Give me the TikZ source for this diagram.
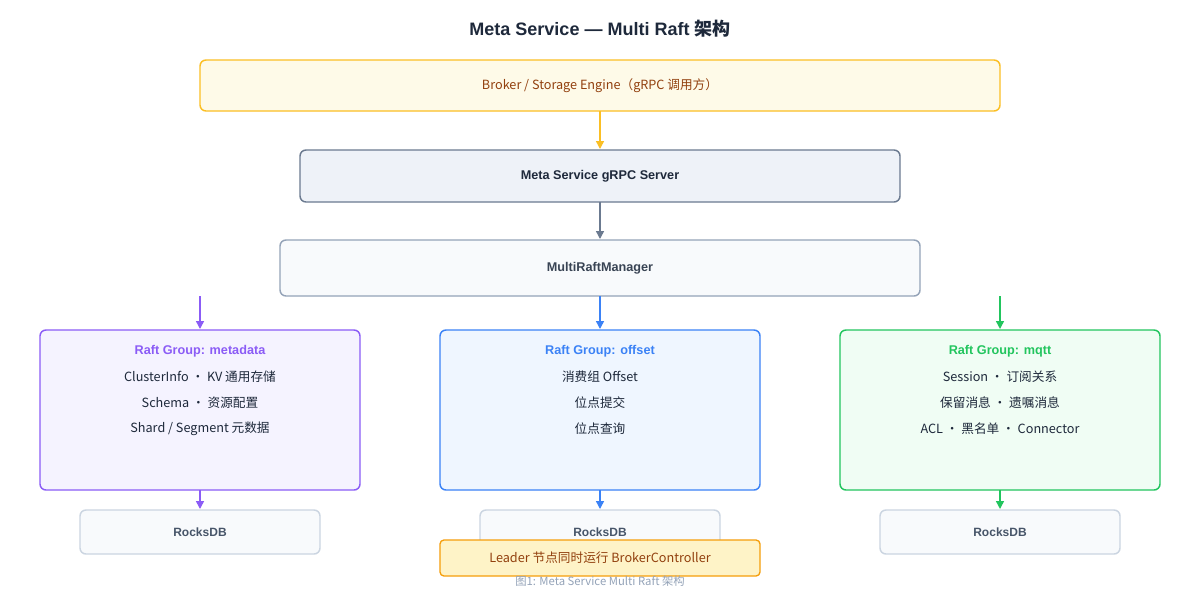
\documentclass[tikz,border=0pt]{standalone}
\usepackage{fontspec}
\setmainfont{Liberation Sans}
\newfontfamily\cjk{Noto Sans CJK SC}
\usetikzlibrary{arrows.meta}
\definecolor{ybd}{HTML}{FBBF24}\definecolor{yfill}{HTML}{FEFAE8}\definecolor{brown}{HTML}{92400E}
\definecolor{sbd}{HTML}{6B7A90}\definecolor{sfill}{HTML}{EEF2F8}\definecolor{dark}{HTML}{1E293B}
\definecolor{mbd}{HTML}{94A3B8}\definecolor{mfill}{HTML}{F8FAFC}
\definecolor{pbd}{HTML}{8B5CF6}\definecolor{pfill}{HTML}{F5F3FF}
\definecolor{bbd}{HTML}{3B82F6}\definecolor{bfill}{HTML}{EFF6FF}
\definecolor{gbd}{HTML}{22C55E}\definecolor{gfill}{HTML}{F0FDF4}
\definecolor{rbd}{HTML}{CBD5E1}\definecolor{rtxt}{HTML}{475569}
\definecolor{lfill}{HTML}{FEF3C7}\definecolor{lbd}{HTML}{F59E0B}
\definecolor{cap}{HTML}{94A3B8}
\begin{document}
\begin{tikzpicture}[x=0.75pt,y=-0.75pt,
 box/.style={rounded corners=4.5pt,line width=1.1pt},
 arr/.style={-{Triangle[length=6pt,width=6pt]},line width=1.1pt},
 t/.style={font=\fontsize{9.5}{11}\selectfont\cjk},
 tb/.style={font=\fontsize{9.5}{11}\selectfont\bfseries}]
\useasboundingbox (0,0) rectangle (1200,600);
\fill[white] (0,0) rectangle (1200,600);
\node[font=\fontsize{13.5}{16}\selectfont\bfseries,text=dark] (title) at (600,29) {Meta Service — Multi Raft {\cjk 架构}};
\draw[box,draw=ybd,fill=yfill] (200,60) rectangle (1000,111);
\node[t,text=brown] (caller) at (600,86) {Broker / Storage Engine（gRPC 调用方）};
\coordinate (cb) at (600,111);
\draw[box,draw=sbd,fill=sfill] (300,150) rectangle (900,202);
\node[tb,text=dark] (srv) at (600,176) {Meta Service gRPC Server};
\coordinate (st) at (600,149);\coordinate (sb) at (600,202);
\draw[arr,draw=ybd,color=ybd] (cb) -- (st);
\draw[box,draw=mbd,fill=mfill] (280,240) rectangle (920,296);
\node[tb,text=rtxt!80!black] (mgr) at (600,268) {MultiRaftManager};
\coordinate (mt) at (600,239);
\draw[arr,draw=sbd,color=sbd] (sb) -- (mt);
\foreach \x/\bd/\fl/\name/\a/\b/\c in {
 200/pbd/pfill/metadata/{ClusterInfo · KV 通用存储}/{Schema · 资源配置}/{Shard / Segment 元数据},
 600/bbd/bfill/offset/{消费组 Offset}/{位点提交}/{位点查询},
 1000/gbd/gfill/mqtt/{Session · 订阅关系}/{保留消息 · 遗嘱消息}/{ACL · 黑名单 · Connector}}{
 \coordinate (s\x) at (\x,296);\coordinate (g\x) at (\x,329);
 \draw[arr,draw=\bd,color=\bd] (s\x) -- (g\x);
 \draw[box,draw=\bd,fill=\fl] (\x-160,330) rectangle (\x+160,490);
 \node[tb,text=\bd] (h\x) at (\x,351) {Raft Group: \name};
 \node[t,text=dark] (a\x) at (\x,377) {\a};
 \node[t,text=dark] (b\x) at (\x,403) {\b};
 \node[t,text=dark] (c\x) at (\x,429) {\c};
 \coordinate (e\x) at (\x,490);\coordinate (r\x) at (\x,509);
 \draw[box,draw=rbd,fill=mfill] (\x-120,510) rectangle (\x+120,554);
 \draw[arr,draw=\bd,color=\bd] (e\x) -- (r\x);
 \node[font=\fontsize{9}{11}\selectfont\bfseries,text=rtxt] (db\x) at (\x,532) {RocksDB};
}
\draw[rounded corners=3pt,line width=1pt,draw=lbd,fill=lfill] (440,540) rectangle (760,576);
\node[t,text=brown] (leader) at (600,558) {Leader 节点同时运行 BrokerController};
\node[font=\fontsize{8.5}{10}\selectfont\cjk\itshape,text=cap] (caption) at (600,581) {图1:  \textit{Meta Service Multi Raft} 架构};
\end{tikzpicture}
\end{document}
